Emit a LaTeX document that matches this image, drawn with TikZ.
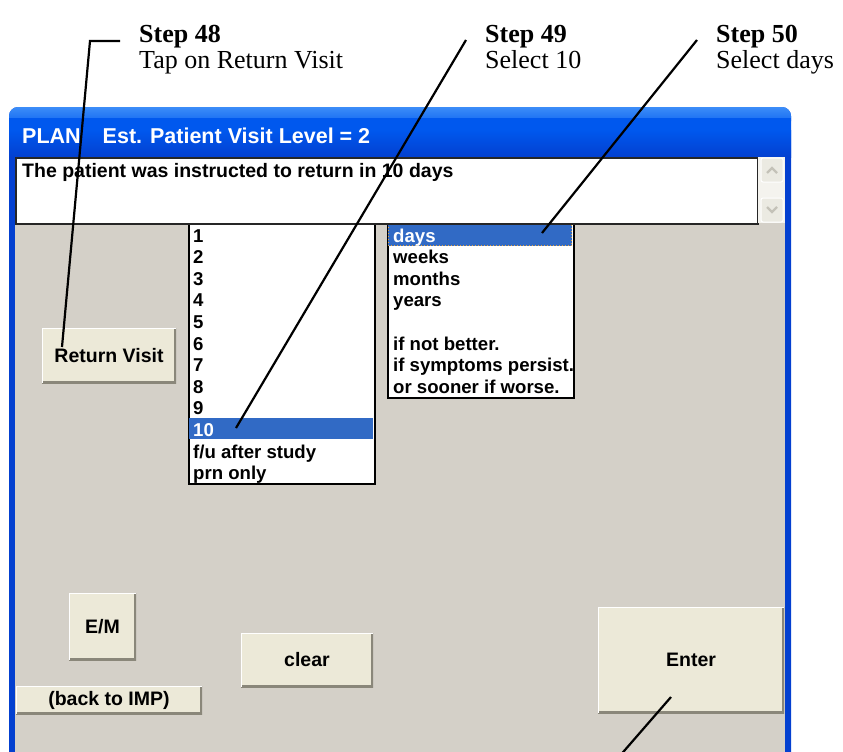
\documentclass[tikz,border=0pt]{standalone}
\usepackage{fontspec}
\setmainfont{Liberation Serif}
\newfontfamily\uifont{Liberation Sans}
\definecolor{xpblue}{HTML}{0A4EDF}
\definecolor{xpbluetop}{HTML}{3C8DF8}
\definecolor{xpbluemid}{HTML}{0058EE}
\definecolor{xpbluebot}{HTML}{0340D0}
\definecolor{xpface}{HTML}{D4D0C8}
\definecolor{btnface}{HTML}{ECE9D8}
\definecolor{btnshadow}{HTML}{8A877A}
\definecolor{selblue}{HTML}{316AC5}
\definecolor{focusorange}{HTML}{E8A33C}
\definecolor{scrolltrack}{HTML}{F4F3EE}
\definecolor{scrollbtn}{HTML}{EBEAE2}
\definecolor{scrollglyph}{HTML}{C4C2B8}
\tikzset{
  uitext/.style={font=\uifont\bfseries\fontsize{19.5}{21}\selectfont, inner sep=0pt},
  xpbutton/.style={uitext, fill=btnface,
    path picture={
      \draw[line width=4pt, btnshadow]
        (path picture bounding box.south west) -- (path picture bounding box.south east)
        -- (path picture bounding box.north east);
      \draw[line width=2pt, white]
        (path picture bounding box.south west) -- (path picture bounding box.north west)
        -- (path picture bounding box.north east);
    }},
  listbox/.style={draw=black, line width=1.5pt, fill=white, inner sep=0pt},
  listitem/.style={font=\uifont\bfseries\fontsize{18.6}{21}\selectfont, inner sep=0pt, anchor=base west},
  steptitle/.style={font=\bfseries\fontsize{26}{25}\selectfont, inner sep=0pt, anchor=base west},
  stepnote/.style={font=\fontsize{26}{25}\selectfont, inner sep=0pt, anchor=base west},
  leader/.style={draw=black, line width=2.2pt},
  scrollbtnstyle/.style={fill=scrollbtn, draw=white, line width=1pt, rounded corners=2pt},
  chevron/.style={draw=scrollglyph, line width=2.2pt}
}
\begin{document}
\begin{tikzpicture}[x=1pt, y=-1pt]
\useasboundingbox (0,0) rectangle (843,752);
\fill[white] (0,0) rectangle (843,752);

\begin{scope}
\clip (0,0) rectangle (843,752);
% window frame and title bar
\fill[xpblue, rounded corners=9pt] (9,107) rectangle (791,800);
\shade[top color=xpbluetop, bottom color=xpbluemid, rounded corners=9pt]
  (9,107) -- (9,130) -- (791,130) -- (791,107) -- cycle;
\fill[xpbluemid] (9,118) rectangle (791,150);
\shade[top color=xpbluemid, bottom color=xpbluebot] (9,130) rectangle (791,157);
\fill[xpbluebot] (9,157) rectangle (15,800);
\fill[xpbluebot] (785,157) rectangle (791,800);
\fill[xpface] (15,157) rectangle (785,800);
\node[anchor=base west, inner sep=0pt, text=white,
      font=\uifont\bfseries\fontsize{21.5}{23}\selectfont] (title) at (22,143)
  {PLAN\hspace{22pt}Est. Patient Visit Level = 2};

% number list
\node[listbox, anchor=north west, minimum width=186pt, minimum height=261pt] (numlist) at (188,222) {};
\fill[selblue] (189,418) rectangle (373,439);
\foreach \n [count=\k] in {1,2,3,4,5,6,7,8,9} {
  \node[listitem] (num\k) at (193,{242+21.6*(\k-1)}) {\n};
}
\node[listitem, text=white] (num10) at (193,436.4) {10};
\node[listitem] (numfu) at (193,458) {f/u after study};
\node[listitem] (numprn) at (193,479.6) {prn only};

% unit list
\node[listbox, anchor=north west, minimum width=186pt, minimum height=175pt] (unitlist) at (387,222) {};
\fill[selblue] (388,223) rectangle (572,246);
\draw[focusorange, dotted, line width=1pt] (388.5,223.5) rectangle (571.5,245.5);
\node[listitem, text=white] (udays) at (393,242) {days};
\node[listitem] (uweeks) at (393,263.6) {weeks};
\node[listitem] (umonths) at (393,285.2) {months};
\node[listitem] (uyears) at (393,306.8) {years};
\node[listitem] (unotbetter) at (393,350) {if not better.};
\node[listitem] (upersist) at (393,371.6) {if symptoms persist.};
\node[listitem] (usooner) at (393,393.2) {or sooner if worse.};

% memo box with scroll bar
\node[draw=black!85, line width=1.5pt, fill=white, anchor=north west,
      minimum width=742pt, minimum height=66pt, inner sep=0pt] (memo) at (15,157) {};
\node[uitext, anchor=base west] (memotext) at (22,177)
  {The patient was instructed to return in 10 days};
\fill[scrolltrack] (758,157) rectangle (785,223);
\draw[scrollbtnstyle] (761,158) rectangle (783,182);
\draw[scrollbtnstyle] (761,198) rectangle (783,222);
\draw[chevron] (767,173) -- (772,168) -- (777,173);
\draw[chevron] (767,207) -- (772,212) -- (777,207);

% buttons
\node[xpbutton, minimum width=134pt, minimum height=55pt] (retvisit) at (109,355.5) {Return Visit};
\node[xpbutton, minimum width=67pt, minimum height=67pt] (em) at (102.5,626.5) {E/M};
\node[xpbutton, minimum width=132pt, minimum height=54pt] (clear) at (307,660) {clear};
\node[xpbutton, minimum width=186pt, minimum height=28pt] (backimp) at (109,700) {(back to IMP)};
\node[xpbutton, minimum width=186pt, minimum height=106pt] (enter) at (691,660) {Enter};

% leader end points
\coordinate (rvtip) at (62,347);
\coordinate (tentip) at (236,428);
\coordinate (daystip) at (542,233);
\coordinate (entertip) at (671,697);
\coordinate (enterfoot) at (614.5,762);
\draw[leader] (entertip) -- (enterfoot);
\end{scope}

% step annotations
\node[steptitle] (s48) at (139,43) {Step 48};
\node[stepnote] (s48note) at (139,68) {Tap on Return Visit};
\node[steptitle] (s49) at (485,43) {Step 49};
\node[stepnote] (s49note) at (485,68) {Select 10};
\node[steptitle] (s50) at (716,43) {Step 50};
\node[stepnote] (s50note) at (716,68) {Select days};

\coordinate (s48hook) at (120,41);
\coordinate (s48corner) at (90,41);
\coordinate (s49start) at (466,40);
\coordinate (s50start) at (697,40);

\draw[leader] (s48hook) -- (s48corner) -- (rvtip);
\draw[leader] (s49start) -- (tentip);
\draw[leader] (s50start) -- (daystip);
\end{tikzpicture}
\end{document}
